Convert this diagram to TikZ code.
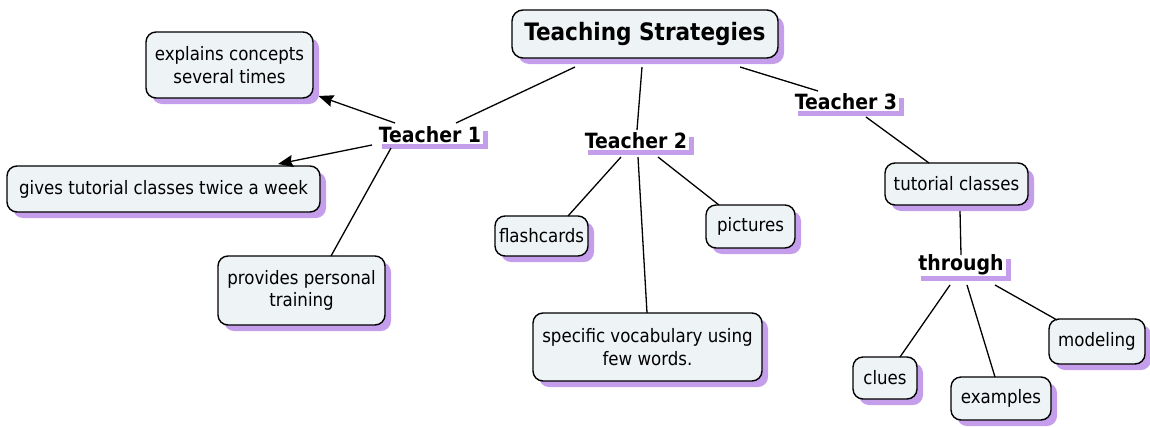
\documentclass[tikz,border=0pt]{standalone}
\usepackage{fontspec}
\setmainfont{DejaVu Sans Condensed}
\usetikzlibrary{shadows,arrows.meta}
\definecolor{boxfill}{HTML}{EEF3F6}
\definecolor{shadowc}{HTML}{C49DEB}
\tikzset{
  concept/.style={draw=black, line width=1.4pt, rounded corners=10pt, fill=boxfill,
    align=center, font=\fontsize{18.5}{22.5}\selectfont, inner xsep=4pt, inner ysep=2pt,
    drop shadow={fill=shadowc, opacity=1, shadow xshift=6pt, shadow yshift=-6pt}},
  linker/.style={fill=white, font=\bfseries\fontsize{21}{24}\selectfont, inner xsep=2pt, inner ysep=1pt,
    drop shadow={fill=shadowc, opacity=1, shadow xshift=5pt, shadow yshift=-5pt}},
  conn/.style={line width=1.3pt, black},
  arr/.style={conn, -{Stealth[length=15pt, width=12pt, inset=2pt]}}
}
\begin{document}
\begin{tikzpicture}[x=1pt, y=-1pt]
\useasboundingbox (0,0) rectangle (1150,426);
\node[concept, font=\bfseries\fontsize{24}{28}\selectfont, minimum width=266pt, minimum height=48pt, rounded corners=11pt] (ts) at (645,34) {Teaching Strategies};
\node[linker] (t1) at (430,135) {Teacher 1};
\node[linker] (t2) at (636,141) {Teacher 2};
\node[linker] (t3) at (846,102) {Teacher 3};
\node[linker] (th) at (961,265) {through};
\node[concept, minimum width=167pt, minimum height=66pt] (ex) at (229.5,65) {explains concepts\\several times};
\node[concept, minimum width=313pt, minimum height=46pt] (gt) at (163.5,189) {gives tutorial classes twice a week};
\node[concept, minimum width=167pt, minimum height=69pt] (pp) at (301.5,290.5) {provides personal\\training};
\node[concept, minimum width=91pt, minimum height=40pt] (fc) at (541.5,236) {flashcards};
\node[concept, minimum width=89pt, minimum height=43pt] (pi) at (750.5,226.5) {pictures};
\node[concept, minimum width=229pt, minimum height=68pt] (sv) at (647.5,347) {specific vocabulary using\\few words.};
\node[concept, minimum width=143pt, minimum height=42pt] (tc) at (956.5,184) {tutorial classes};
\node[concept, minimum width=64pt, minimum height=42pt] (cl) at (885,378) {clues};
\node[concept, minimum width=100pt, minimum height=43pt] (eg) at (1001,398.5) {examples};
\node[concept, minimum width=96pt, minimum height=45pt] (mo) at (1097,341.5) {modeling};
% connectors
\draw[conn] ([shift={(-70,33)}]ts.center) -- ([shift={(26,-12)}]t1.center);
\draw[conn] ([shift={(-3,33)}]ts.center) -- ([shift={(1,-11)}]t2.center);
\draw[conn] ([shift={(95,33)}]ts.center) -- ([shift={(-28,-11)}]t3.center);
\draw[arr] ([shift={(-35,-12)}]t1.center) -- ([shift={(89,31)}]ex.center);
\draw[arr] ([shift={(-58,10)}]t1.center) -- ([shift={(114.5,-25)}]gt.center);
\draw[conn] ([shift={(-39,13)}]t1.center) -- ([shift={(29.5,-34.5)}]pp.center);
\draw[conn] ([shift={(-15,16)}]t2.center) -- ([shift={(26.5,-20)}]fc.center);
\draw[conn] ([shift={(2,16)}]t2.center) -- ([shift={(-0.5,-34)}]sv.center);
\draw[conn] ([shift={(22,16)}]t2.center) -- ([shift={(-31.5,-21.5)}]pi.center);
\draw[conn] ([shift={(20,15)}]t3.center) -- ([shift={(-27.5,-21)}]tc.center);
\draw[conn] ([shift={(3.5,27)}]tc.center) -- ([shift={(0,-10)}]th.center);
\draw[conn] ([shift={(-11,20)}]th.center) -- ([shift={(15,-21)}]cl.center);
\draw[conn] ([shift={(6,20)}]th.center) -- ([shift={(-6,-21.5)}]eg.center);
\draw[conn] ([shift={(34,20)}]th.center) -- ([shift={(-40,-21.5)}]mo.center);
\end{tikzpicture}
\end{document}
